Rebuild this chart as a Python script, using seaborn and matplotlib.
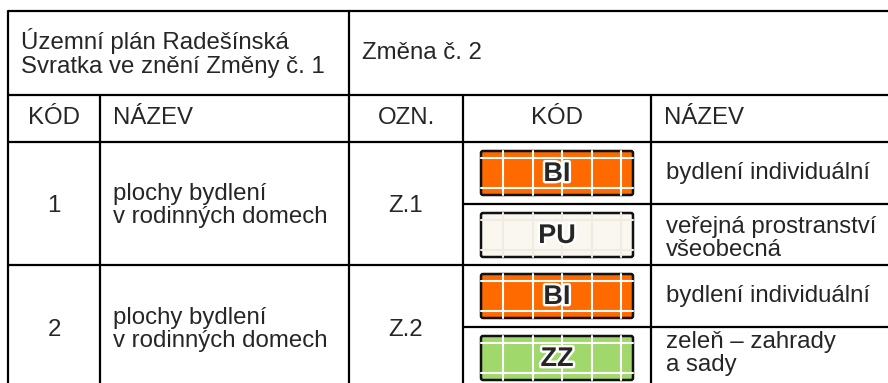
import matplotlib
matplotlib.use("Agg")
import matplotlib.pyplot as plt
import matplotlib.patheffects as pe
from matplotlib.patches import FancyBboxPatch, Rectangle
import seaborn as sns

#table content
header_old = "Územní plán Radešínská\nSvratka ve znění Změny č. 1"
header_new = "Změna č. 2"
col_titles = ["KÓD", "NÁZEV", "OZN.", "KÓD", "NÁZEV"]

old_codes = ["1", "2"]
old_names = ["plochy bydlení\nv rodinných domech", "plochy bydlení\nv rodinných domech"]
change_labels = ["Z.1", "Z.2"]
new_codes = [["BI", "PU"], ["BI", "ZZ"]]
new_names = [["bydlení individuální", "veřejná prostranství\nvšeobecná"],
             ["bydlení individuální", "zeleň – zahrady\na sady"]]

code_colors = {"BI": "#ff6a00", "PU": "#faf6f0", "ZZ": "#a0d86c"}
grid_colors = {"BI": "white", "PU": "#f0ebe3", "ZZ": "white"}

#layout in pixels
col_x = [8, 100, 349, 463, 651, 900]
row_y = [11, 95, 142, 265, 390]
sub_h = 62
name_top = {"PU": 12, "ZZ": 4}
fs = 17.3
lw = 1.6

sns.set_style("white")
plt.rcParams["font.family"] = ["Liberation Sans", "DejaVu Sans"]

fig = plt.figure(figsize=(8.88, 3.83), dpi=100)
ax = fig.add_axes([0, 0, 1, 1])
ax.set_xlim(0, 888)
ax.set_ylim(383, 0)
ax.axis("off")

#grid lines
for y in row_y:
    ax.plot([col_x[0], 888], [y, y], color="black", lw=lw, solid_capstyle="butt")
ax.plot([col_x[0], col_x[0]], [row_y[0], 390], color="black", lw=lw)
ax.plot([col_x[2], col_x[2]], [row_y[0], 390], color="black", lw=lw)
for x in [col_x[1], col_x[3], col_x[4]]:
    ax.plot([x, x], [row_y[1], 390], color="black", lw=lw)
for i in range(len(old_codes)):
    y = row_y[2 + i] + sub_h
    ax.plot([col_x[3], 888], [y, y], color="black", lw=lw)

#headers
ax.text(21, 53, header_old, fontsize=fs, va="center", ha="left", linespacing=1.15)
ax.text(362, 53, header_new, fontsize=fs, va="center", ha="left")
hy = (row_y[1] + row_y[2]) / 2
for j, t in enumerate(col_titles):
    if t == "NÁZEV":
        ax.text(col_x[j] + 13, hy, t, fontsize=fs, va="center", ha="left")
    else:
        ax.text((col_x[j] + col_x[j + 1]) / 2, hy, t, fontsize=fs, va="center", ha="center")


def swatch(cx, cy, code):
    w, h = 152, 44
    x0, y0 = cx - w / 2, cy - h / 2
    ax.add_patch(Rectangle((x0, y0), w, h, facecolor=code_colors[code], edgecolor="none"))
    gc = grid_colors[code]
    for off in [22, 52, 81, 111, 140]:
        ax.plot([x0 + off, x0 + off], [y0, y0 + h], color=gc, lw=1.5)
    for off in [7, h - 7]:
        ax.plot([x0, x0 + w], [y0 + off, y0 + off], color=gc, lw=1.5)
    ax.add_patch(FancyBboxPatch((x0, y0), w, h, boxstyle="round,pad=0,rounding_size=2",
                                facecolor="none", edgecolor="#111111", lw=1.8))
    ax.text(cx, cy + 1, code, fontsize=19.5, fontweight="bold", ha="center", va="center",
            path_effects=[pe.withStroke(linewidth=3.5, foreground="white")])


#body rows
for i in range(len(old_codes)):
    top = row_y[2 + i]
    mid = (top + row_y[3 + i]) / 2 + 2
    ax.text((col_x[0] + col_x[1]) / 2, mid, old_codes[i], fontsize=fs, ha="center", va="center")
    ax.text(col_x[1] + 13, mid, old_names[i], fontsize=fs, ha="left", va="center", linespacing=1.1)
    ax.text((col_x[2] + col_x[3]) / 2, mid, change_labels[i], fontsize=fs, ha="center", va="center")
    for k in range(2):
        st = top + k * sub_h
        code = new_codes[i][k]
        swatch((col_x[3] + col_x[4]) / 2, st + sub_h / 2, code)
        name = new_names[i][k]
        if "\n" in name:
            ax.text(col_x[4] + 15, st + name_top[code], name, fontsize=fs, ha="left", va="top",
                    linespacing=1.08)
        else:
            ax.text(col_x[4] + 15, st + sub_h / 2, name, fontsize=fs, ha="left", va="center")

fig.savefig("out.png", dpi=100)
plt.close(fig)
